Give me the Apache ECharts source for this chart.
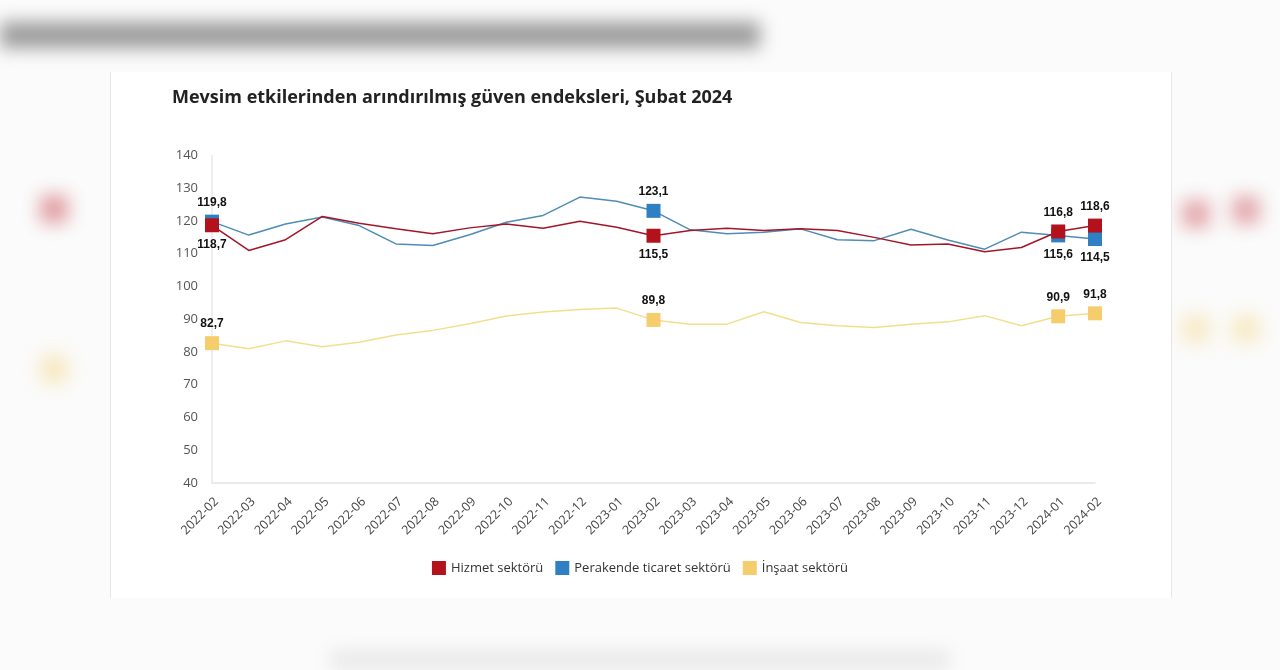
<!DOCTYPE html>
<html>
<head>
<meta charset="utf-8">
<script src="https://cdn.jsdelivr.net/npm/echarts@6/dist/echarts.min.js"></script>
<style>
  html, body { margin: 0; padding: 0; width: 1280px; height: 670px; background: #fbfbfb; overflow: hidden; }
  .ghost { position: absolute; filter: blur(9px); }
  #panel { position: absolute; left: 110px; top: 72px; width: 1060px; height: 526px; background: #fff;
           border-left: 1px solid #e6e6e6; border-right: 1px solid #e6e6e6; }
  #chart { position: absolute; left: 0; top: 0; width: 1280px; height: 670px; }
</style>
</head>
<body>
<div class="ghost" style="left:0;top:22px;width:760px;height:26px;background:#5a5a5a;opacity:0.6;"></div>
<div class="ghost" style="left:40px;top:195px;width:28px;height:28px;background:#c0303a;opacity:0.45;"></div>
<div class="ghost" style="left:40px;top:355px;width:28px;height:28px;background:#f3d27a;opacity:0.45;"></div>
<div class="ghost" style="left:1182px;top:200px;width:28px;height:28px;background:#c0303a;opacity:0.4;"></div>
<div class="ghost" style="left:1232px;top:196px;width:28px;height:28px;background:#c0303a;opacity:0.4;"></div>
<div class="ghost" style="left:1182px;top:315px;width:28px;height:28px;background:#f3d27a;opacity:0.4;"></div>
<div class="ghost" style="left:1232px;top:315px;width:28px;height:28px;background:#f3d27a;opacity:0.4;"></div>
<div class="ghost" style="left:330px;top:650px;width:620px;height:20px;background:#ddd;opacity:0.6;"></div>
<div id="panel"></div>
<div id="chart"></div>
<script>
const categories = ['2022-02','2022-03','2022-04','2022-05','2022-06','2022-07','2022-08','2022-09','2022-10','2022-11','2022-12','2023-01',
  '2023-02','2023-03','2023-04','2023-05','2023-06','2023-07','2023-08','2023-09','2023-10','2023-11','2023-12','2024-01','2024-02'];
const hizmet =    [118.7,111.0,114.3,121.4,119.3,117.6,116.1,117.9,119.1,117.8,119.9,118.1,115.5,117.1,117.8,117.1,117.6,117.1,115.0,112.7,113.0,110.6,111.9,116.8,118.6];
const perakende = [119.8,115.7,119.1,121.2,118.6,113.0,112.5,115.8,119.6,121.7,127.3,126.0,123.1,117.3,116.1,116.6,117.6,114.3,114.0,117.5,114.2,111.4,116.6,115.6,114.5];
const insaat =    [82.7,81.0,83.4,81.6,83.0,85.2,86.6,88.6,91.0,92.2,93.0,93.4,89.8,88.5,88.5,92.3,89.0,88.0,87.5,88.5,89.2,91.1,88.0,90.9,91.8];
const seriesNames = ['Hizmet sektörü','Perakende ticaret sektörü','İnşaat sektörü'];
const markedIdx = [0, 12, 23, 24];
const yTicks = { min: 40, max: 140, step: 10 };

const colors = { red: '#b3121d', blue: '#2f80c2', yellow: '#f5cd6c' };
const lineColors = { red: '#a3162a', blue: '#4f8db5', yellow: '#efe08e' };

function build(values, labelPos) {
  return values.map((v, i) => {
    const k = markedIdx.indexOf(i);
    if (k < 0) return v;
    return { value: v, symbolSize: 14, label: { show: true, position: labelPos[k] } };
  });
}
const lblFmt = p => String(p.value).replace('.', ',');
const lbl = { show: false, formatter: lblFmt, fontFamily: 'Liberation Sans', fontWeight: 'bold', fontSize: 12, color: '#111', distance: 6 };

const chart = echarts.init(document.getElementById('chart'), null, { renderer: 'canvas' });
chart.setOption({
  animation: false,
  backgroundColor: 'transparent',
  title: {
    text: 'Mevsim etkilerinden arındırılmış güven endeksleri, Şubat 2024',
    left: 167, top: 84,
    textStyle: { fontFamily: 'Open Sans', fontWeight: 'bold', fontSize: 18, color: '#222' }
  },
  legend: {
    data: seriesNames,
    top: 556, left: 'center',
    itemWidth: 14, itemHeight: 14, itemGap: 12,
    icon: 'rect',
    textStyle: { fontFamily: 'Open Sans', fontSize: 13, color: '#333' }
  },
  grid: { left: 212, right: 185, top: 155.5, bottom: 187, containLabel: false },
  xAxis: {
    type: 'category', data: categories, boundaryGap: false,
    axisLine: { lineStyle: { color: '#e3e3e3', width: 1.5 } },
    axisTick: { show: false },
    axisLabel: { rotate: 45, interval: 0, fontFamily: 'Open Sans', fontSize: 12.5, color: '#444', margin: 12, verticalAlign: 'top' }
  },
  yAxis: {
    type: 'value', min: yTicks.min, max: yTicks.max, interval: yTicks.step,
    axisLine: { show: true, lineStyle: { color: '#e8e8e8', width: 1.5 } },
    axisTick: { show: false },
    splitLine: { show: false },
    axisLabel: { fontFamily: 'Open Sans', fontSize: 13, color: '#555', margin: 14 }
  },
  series: [
    { name: seriesNames[0], type: 'line', z: 5, data: build(hizmet, ['bottom','bottom','top','top']),
      symbol: 'rect', symbolSize: 0, showSymbol: true,
      itemStyle: { color: colors.red }, lineStyle: { color: lineColors.red, width: 1.5 }, label: lbl },
    { name: seriesNames[1], type: 'line', z: 4, data: build(perakende, ['top','top','bottom','bottom']),
      symbol: 'rect', symbolSize: 0, showSymbol: true,
      itemStyle: { color: colors.blue }, lineStyle: { color: lineColors.blue, width: 1.5 }, label: lbl },
    { name: seriesNames[2], type: 'line', z: 3, data: build(insaat, ['top','top','top','top']),
      symbol: 'rect', symbolSize: 0, showSymbol: true,
      itemStyle: { color: colors.yellow }, lineStyle: { color: lineColors.yellow, width: 1.5 }, label: lbl }
  ]
});
</script>
</body>
</html>
